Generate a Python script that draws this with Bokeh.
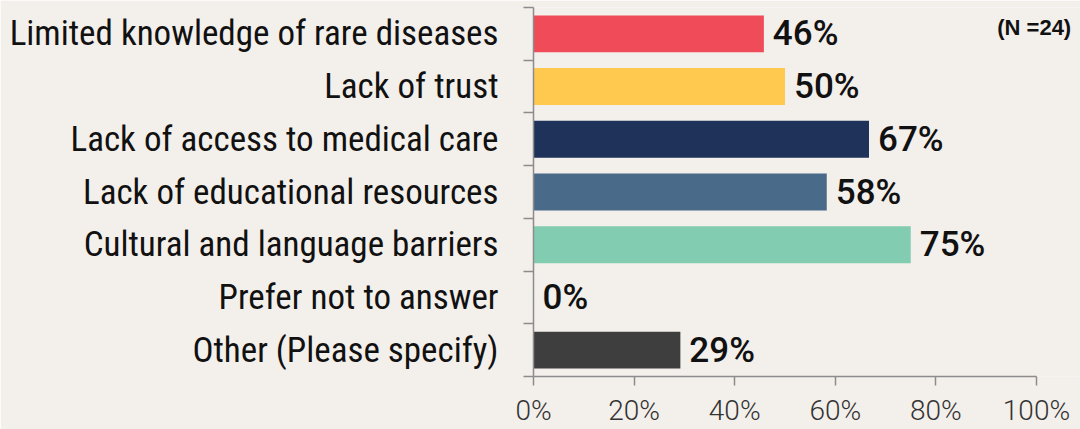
from bokeh.plotting import figure
from bokeh.models import ColumnDataSource, FixedTicker, Range1d, Label, LabelSet
from bokeh.embed import file_html
from bokeh.resources import INLINE
from bokeh.core.properties import value

categories = [
    "Limited knowledge of rare diseases",
    "Lack of trust",
    "Lack of access to medical care",
    "Lack of educational resources",
    "Cultural and language barriers",
    "Prefer not to answer",
    "Other (Please specify)",
]
values = [45.8, 50.0, 66.7, 58.3, 75.0, 0.0, 29.2]
colors = ["#EF4B59", "#FFC84E", "#1F3259", "#4A6A8A", "#82CDB1", "#BBBBBB", "#3E3E3E"]
x_ticks = [0, 20, 40, 60, 80, 100]
note = "(N =24)"

BG = "#F3EFEB"
n = len(categories)
ypos = [n - 1 - i for i in range(n)]
labels = [f"{round(v):.0f}%" for v in values]

src = ColumnDataSource(dict(y=ypos, v=values, c=colors, lab=labels))

p = figure(
    frame_width=547, frame_height=369,
    x_range=Range1d(0, 108.75), y_range=Range1d(-0.5, n - 0.5),
    output_backend="svg", toolbar_location=None,
    background_fill_color=BG, border_fill_color=BG,
    min_border_left=533, min_border_right=0, min_border_top=7, min_border_bottom=53,
)
p.outline_line_color = None
p.grid.visible = False

p.hbar(y="y", left=0, right="v", height=0.7, fill_color="c", line_color=None, source=src)

lbl = LabelSet(x="v", y="y", text="lab", source=src, x_offset=9,
               text_font=value("Roboto Medium"), text_font_size="35px",
               text_baseline="middle", text_align="left", text_color="#111111")
p.add_layout(lbl)

p.add_layout(Label(x=106.9, y=n - 1 + 0.12, text=note, text_font="Liberation Sans",
                   text_font_style="bold", text_font_size="22px", text_align="right",
                   text_baseline="middle", text_color="#111111"))

# y axis
p.yaxis.ticker = FixedTicker(ticks=ypos, minor_ticks=[i - 0.5 for i in range(n + 1)])
p.yaxis.major_label_overrides = {y: c for y, c in zip(ypos, categories)}
p.yaxis.major_tick_out = 0
p.yaxis.major_tick_in = 0
p.yaxis.minor_tick_out = 10
p.yaxis.minor_tick_in = 0
p.yaxis.minor_tick_line_color = "#8C8C8C"
p.yaxis.axis_line_color = "#8C8C8C"
p.yaxis.axis_line_width = 1.5
p.yaxis.minor_tick_line_width = 1.5
p.yaxis.major_label_standoff = 25
p.yaxis.major_label_text_font = "Roboto Condensed"
p.yaxis.major_label_text_font_size = "35px"
p.yaxis.major_label_text_color = "#111111"

# x axis
p.xaxis.ticker = FixedTicker(ticks=x_ticks)
p.xaxis.bounds = (0, 100)
p.xaxis.major_label_overrides = {t: f"{t}%" for t in x_ticks}
p.xaxis.major_tick_out = 9
p.xaxis.major_tick_in = 0
p.xaxis.minor_tick_out = 0
p.xaxis.minor_tick_in = 0
p.xaxis.major_tick_line_color = "#8C8C8C"
p.xaxis.major_tick_line_width = 1.5
p.xaxis.axis_line_color = "#8C8C8C"
p.xaxis.axis_line_width = 1.5
p.xaxis.major_label_standoff = 8
p.xaxis.major_label_text_font = "Roboto Light"
p.xaxis.major_label_text_font_size = "28px"
p.xaxis.major_label_text_color = "#333333"

open("out.html", "w").write(file_html(p, INLINE))
